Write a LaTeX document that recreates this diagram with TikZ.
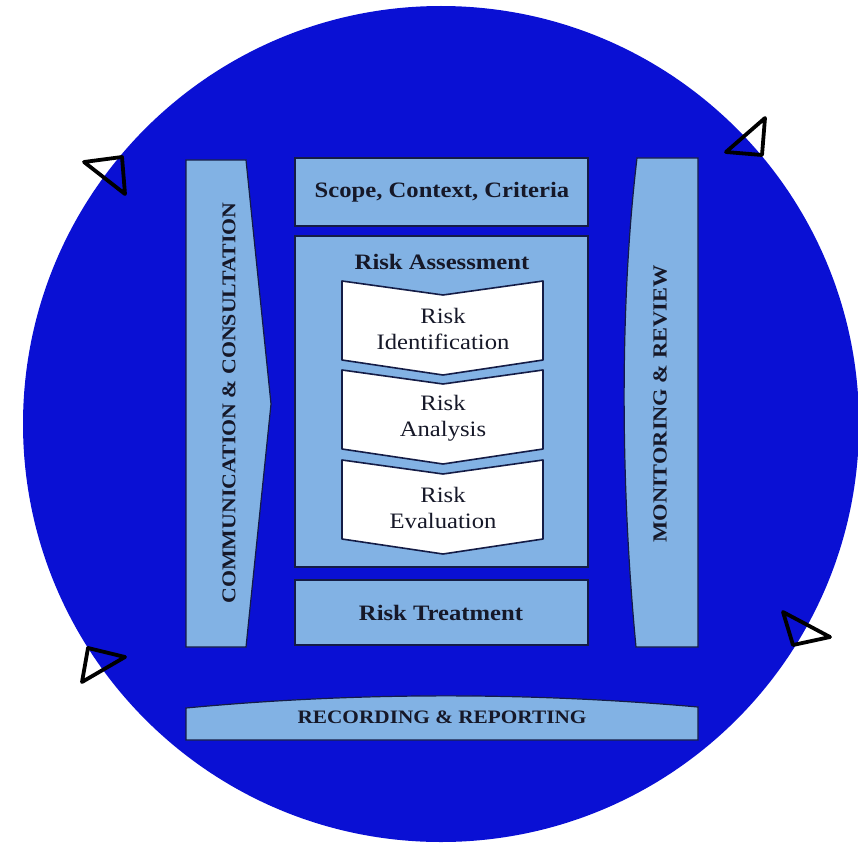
\documentclass[tikz,border=0pt]{standalone}
\usepackage{fontspec}
\setmainfont{Liberation Serif}
\newfontfamily\wfont[FakeStretch=1.12]{Liberation Serif}
\definecolor{cblue}{RGB}{10,16,212}
\definecolor{lblue}{RGB}{130,178,228}
\definecolor{edgec}{RGB}{20,28,70}
\definecolor{txt}{RGB}{22,24,40}
\tikzset{
  panel/.style={fill=lblue,draw=edgec,line width=1.2pt},
  chev/.style={fill=white,draw=edgec,line width=1.6pt,line join=round},
  tri/.style={draw=black,line width=3.8pt,line join=round},
  head/.style={font=\wfont\bfseries\fontsize{22}{24}\selectfont,text=txt,inner sep=0pt},
  side/.style={font=\wfont\bfseries\fontsize{19.5}{21}\selectfont,text=txt,inner sep=0pt,rotate=90},
  ctext/.style={font=\wfont\fontsize{22}{25.5}\selectfont,text=txt,align=center,inner sep=0pt}
}
\begin{document}
\begin{tikzpicture}[x=1pt,y=-1pt]
\useasboundingbox (0,0) rectangle (858,845);
% big circle
\fill[cblue] (441,424) circle (418pt);
% left panel
\draw[panel] (186,160) -- (246,160) -- (271,404) -- (246,647) -- (186,647) -- cycle;
\node[side] (comm) at (229,403) {COMMUNICATION \& CONSULTATION};
% right panel
\draw[panel] (637,158) -- (698,158) -- (698,647) -- (636,647) .. controls (620,480) and (620,300) .. (637,158) -- cycle;
\node[side,font=\wfont\bfseries\fontsize{20}{21}\selectfont] (mon) at (660,404) {MONITORING \& REVIEW};
% center boxes
\draw[panel] (295,158) rectangle (588,226);
\node[head] (scope) at (442,192) {Scope, Context, Criteria};
\draw[panel] (295,236) rectangle (588,567);
\node[head] (assess) at (442,262) {Risk Assessment};
\draw[panel] (295,580) rectangle (588,645);
\node[head] (treat) at (441,613) {Risk Treatment};
% chevrons
\foreach \t/\nm/\lab in {281/ident/{Risk\\Identification},370/anal/{Risk\\Analysis},460/eval/{Risk\\Evaluation}}{
  \draw[chev] (342,\t) -- (443,\t+14) -- (543,\t) -- (543,\t+79) -- (443,\t+94) -- (342,\t+79) -- cycle;
  \node[ctext] (\nm) at (443,\t+48) {\lab};
}
% recording band
\draw[panel] (186,708) .. controls (356,692) and (528,692) .. (698,707) -- (698,740) -- (186,740) -- cycle;
\node[head,font=\wfont\bfseries\fontsize{19}{21}\selectfont] (rec) at (442,717) {RECORDING \& REPORTING};
% triangles
\draw[tri] (84,162) -- (122,157) -- (125,194) -- cycle;
\draw[tri] (726,152) -- (765,118) -- (762,155) -- cycle;
\draw[tri] (88,648) -- (125,657) -- (82,682) -- cycle;
\draw[tri] (783,612) -- (830,637) -- (793,645) -- cycle;
\end{tikzpicture}
\end{document}
